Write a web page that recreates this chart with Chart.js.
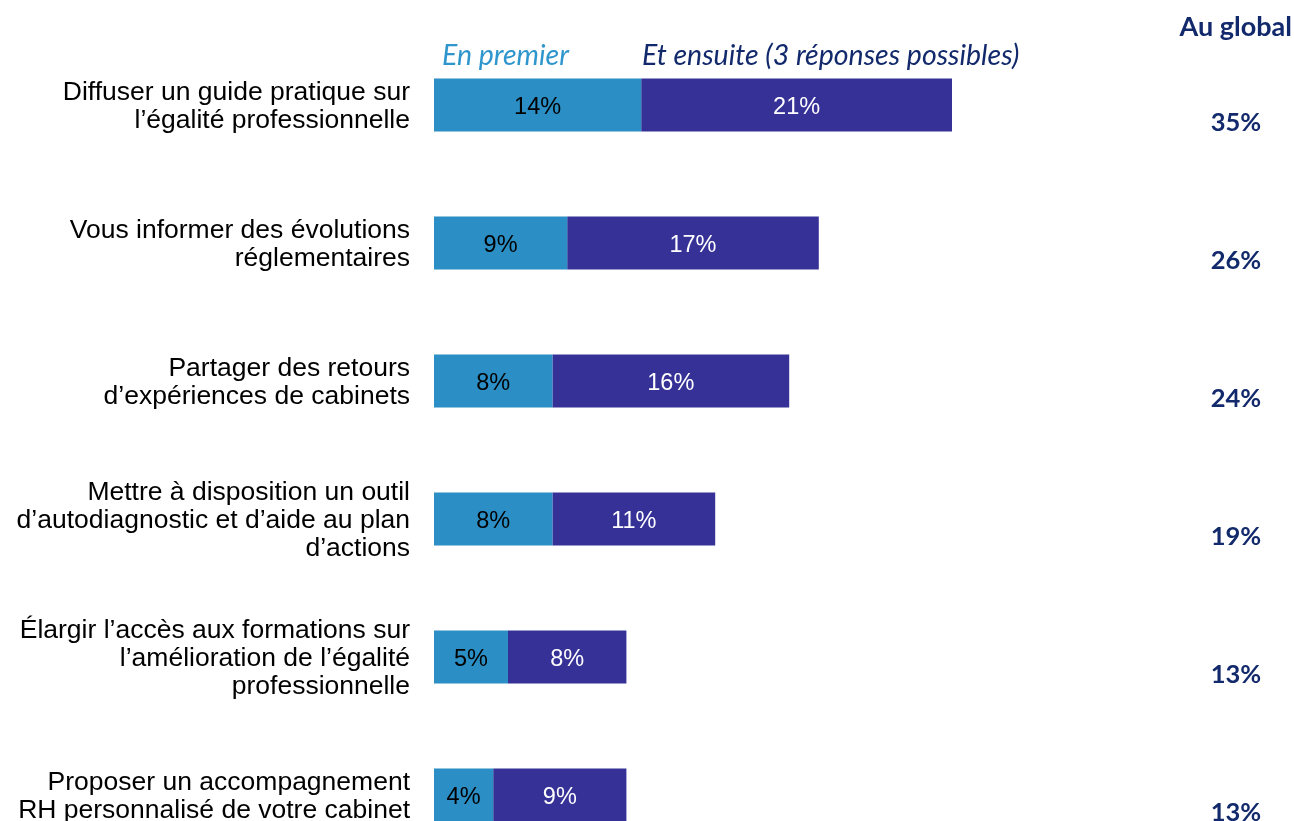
<!DOCTYPE html>
<html lang="fr">
<head>
<meta charset="utf-8">
<script src="https://cdn.jsdelivr.net/npm/chart.js"></script>
<style>
  html, body { margin: 0; padding: 0; background: #fff; overflow: hidden; }
  canvas { display: block; }
</style>
</head>
<body>
<canvas id="attentesChart" width="1294" height="880"></canvas>

<script>
// Catégories (libellés sur plusieurs lignes)
const categories = [
    ['Diffuser un guide pratique sur', 'l’égalité professionnelle'],
    ['Vous informer des évolutions', 'réglementaires'],
    ['Partager des retours', 'd’expériences de cabinets'],
    ['Mettre à disposition un outil', 'd’autodiagnostic et d’aide au plan', 'd’actions'],
    ['Élargir l’accès aux formations sur', 'l’amélioration de l’égalité', 'professionnelle'],
    ['Proposer un accompagnement', 'RH personnalisé de votre cabinet']
];
const enPremier = [14, 9, 8, 8, 5, 4];
const etEnsuite = [21, 17, 16, 11, 8, 9];
const seriesNames = ['En premier', 'Et ensuite (3 réponses possibles)'];
const totalTitle = 'Au global';

const colPremier = '#2b8ec4';
const colEnsuite = '#363197';
const colNavy = '#12296b';

// Valeurs dans les barres + colonne "Au global" + légende
const annotations = {
    id: 'annotations',
    afterDatasetsDraw(chart) {
        const ctx = chart.ctx;
        ctx.save();
        ctx.textBaseline = 'middle';
        ctx.textAlign = 'center';
        ctx.font = '23.5px "Liberation Sans", Arial, sans-serif';
        chart.data.datasets.forEach(function(ds, i) {
            const meta = chart.getDatasetMeta(i);
            meta.data.forEach(function(bar, j) {
                const p = bar.getProps(['x', 'y', 'base']);
                ctx.fillStyle = i === 0 ? '#000' : '#fff';
                ctx.fillText(ds.data[j] + '%', (p.x + p.base) / 2, p.y + 3);
            });
        });

        // Totaux
        const yScale = chart.scales.y;
        ctx.fillStyle = colNavy;
        ctx.font = 'bold 25.5px Lato, "Open Sans", sans-serif';
        enPremier.forEach(function(v, j) {
            const y = yScale.getPixelForValue(j);
            ctx.fillText((v + etEnsuite[j]) + '%', 1236, y + 18);
        });
        ctx.textAlign = 'right';
        ctx.font = 'bold 27px Lato, "Open Sans", sans-serif';
        ctx.fillText(totalTitle, 1292, 27);

        // Légende
        ctx.textAlign = 'left';
        ctx.font = 'italic 28.5px Lato, "Open Sans", sans-serif';
        ctx.fillStyle = '#2f96cd';
        ctx.fillText(seriesNames[0], 442, 56);
        ctx.fillStyle = colNavy;
        ctx.fillText(seriesNames[1], 642, 56);
        ctx.restore();
    }
};

new Chart(document.getElementById('attentesChart'), {
    type: 'bar',
    data: {
        labels: categories,
        datasets: [
            {
                label: seriesNames[0],
                data: enPremier,
                backgroundColor: colPremier,
                barPercentage: 0.385,
                categoryPercentage: 1
            },
            {
                label: seriesNames[1],
                data: etEnsuite,
                backgroundColor: colEnsuite,
                barPercentage: 0.385,
                categoryPercentage: 1
            }
        ]
    },
    options: {
        indexAxis: 'y',
        responsive: false,
        animation: false,
        layout: {
            padding: { top: 36, bottom: 16, left: 0, right: 120 }
        },
        plugins: {
            legend: { display: false },
            tooltip: { enabled: false }
        },
        scales: {
            x: {
                stacked: true,
                display: false,
                min: 0,
                max: 50
            },
            y: {
                stacked: true,
                grid: { display: false, drawTicks: false },
                border: { display: false },
                afterFit: function(scale) {
                    scale.width = 434;
                    // les libellés multilignes ne doivent pas réduire la zone du graphique
                    scale.paddingTop = 0;
                    scale.paddingBottom = 0;
                },
                ticks: {
                    padding: 24,
                    labelOffset: 2,
                    color: '#000',
                    font: {
                        family: '"Liberation Sans", Arial, sans-serif',
                        size: 26.5,
                        lineHeight: 1.06
                    }
                }
            }
        }
    },
    plugins: [annotations]
});
</script>
</body>
</html>
